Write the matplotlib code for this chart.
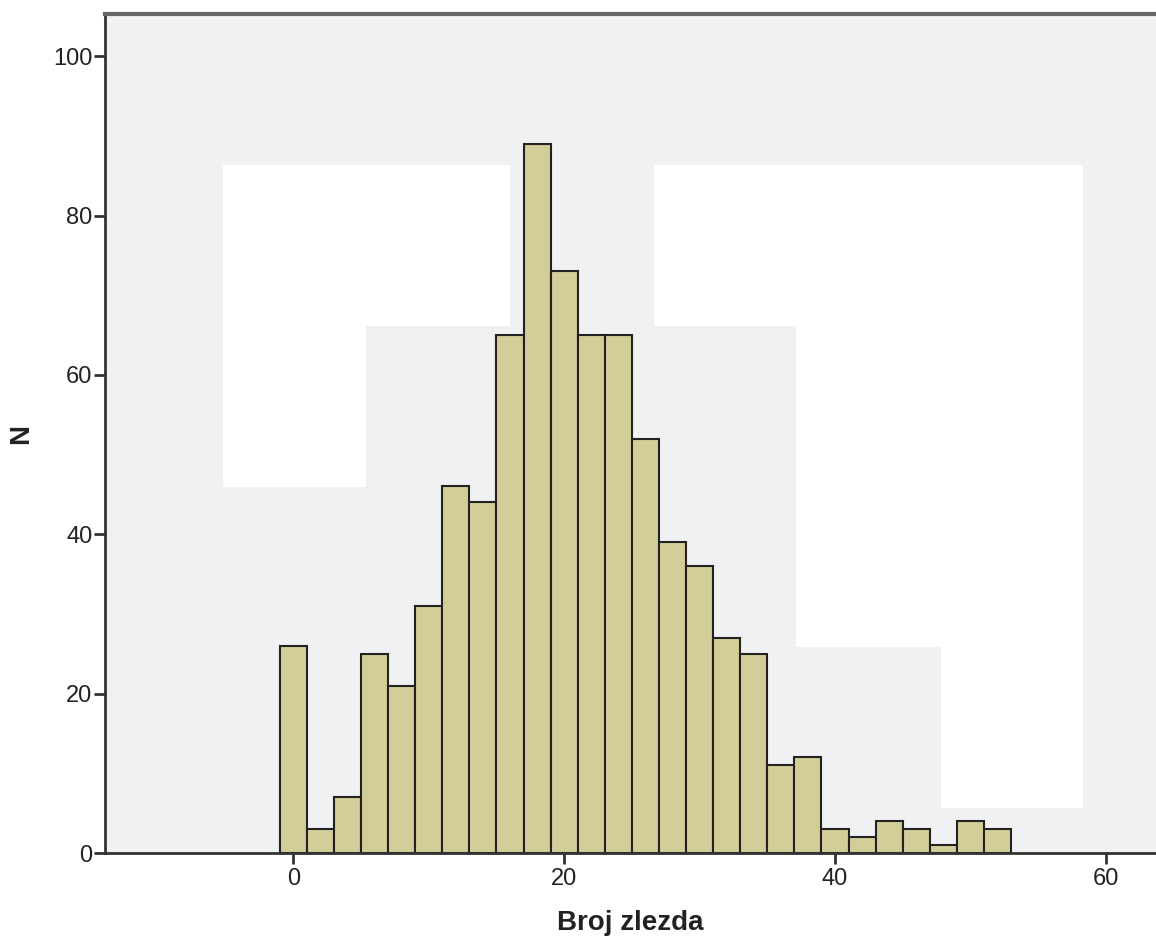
import numpy as np
import matplotlib.pyplot as plt
from matplotlib.patches import Polygon

# histogram bins (centre of each bin, width 2) and counts
bin_centers = list(range(0, 54, 2))
counts = [26, 3, 7, 25, 21, 31, 46, 44, 65, 89, 73, 65, 65, 52,
          39, 36, 27, 25, 11, 12, 3, 2, 4, 3, 1, 4, 3]
bin_width = 2

x_ticks = [0, 20, 40, 60]
y_ticks = [0, 20, 40, 60, 80, 100]
x_label = "Broj zlezda"
y_label = "N"

# white patches in the plot background of the original (data coordinates)
white_patch_1 = [(-5.2, 86.3), (16.0, 86.3), (16.0, 66.1), (5.4, 66.1),
                 (5.4, 45.9), (-5.2, 45.9)]
white_patch_2 = [(26.6, 86.3), (58.3, 86.3), (58.3, 5.6), (47.8, 5.6),
                 (47.8, 25.8), (37.15, 25.8), (37.15, 66.1), (26.6, 66.1)]

plt.rcParams['font.family'] = ['Liberation Sans', 'DejaVu Sans']
tick_family = ['Liberation Sans Narrow', 'Liberation Sans', 'DejaVu Sans']

fig = plt.figure(figsize=(11.56, 9.40), dpi=100)
ax = fig.add_axes([105 / 1156, 87 / 940, 1 - 105 / 1156, (853 - 14) / 940])
ax.set_facecolor("#F0F1F3")

for pts in (white_patch_1, white_patch_2):
    ax.add_patch(Polygon(pts, closed=True, facecolor="white", edgecolor="none", zorder=0.5))

ax.bar(bin_centers, counts, width=bin_width, color="#D3CE97",
       edgecolor="#222222", linewidth=1.5, zorder=2)

ax.set_xlim(-13.9, 63.7)
ax.set_ylim(0, 105.3)
ax.set_xticks(x_ticks)
ax.set_yticks(y_ticks)

ax.spines["right"].set_visible(False)
ax.spines["top"].set_color("#666666")
ax.spines["top"].set_linewidth(3)
ax.spines["left"].set_color("#333333")
ax.spines["left"].set_linewidth(2)
ax.spines["bottom"].set_color("#333333")
ax.spines["bottom"].set_linewidth(2)

ax.tick_params(axis="x", length=8, width=2, color="#333333", pad=3, labelcolor="#222222")
ax.tick_params(axis="y", length=8, width=2, color="#333333", pad=1, labelcolor="#222222")
for lbl in ax.get_xticklabels() + ax.get_yticklabels():
    lbl.set_family(tick_family)
    lbl.set_fontsize(17)

ax.set_xlabel(x_label, fontsize=20, fontweight="bold", labelpad=14, color="#222222")
ax.set_ylabel(y_label, fontsize=20, fontweight="bold", labelpad=14, color="#222222")

fig.savefig("out.png", dpi=100)
